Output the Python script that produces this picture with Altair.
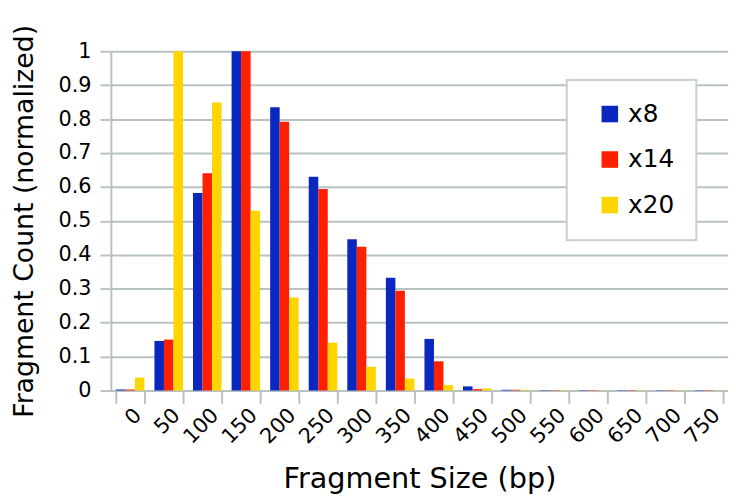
import altair as alt
import pandas as pd

sizes = ["0", "50", "100", "150", "200", "250", "300", "350", "400", "450",
         "500", "550", "600", "650", "700", "750"]
series = ["x8", "x14", "x20"]
x8 = [0.003, 0.146, 0.582, 1.0, 0.835, 0.630, 0.446, 0.332, 0.152, 0.012,
      0.002, 0.001, 0.001, 0.001, 0.001, 0.001]
x14 = [0.003, 0.150, 0.640, 1.0, 0.792, 0.594, 0.424, 0.294, 0.086, 0.004,
       0.002, 0.001, 0.001, 0.001, 0.001, 0.001]
x20 = [0.038, 1.0, 0.849, 0.530, 0.274, 0.141, 0.070, 0.035, 0.016, 0.006,
       0.002, 0.001, 0.001, 0.001, 0.001, 0.001]
colors = ["#0a28c0", "#ff2000", "#ffd500"]

rows = []
for name, vals in zip(series, [x8, x14, x20]):
    for s, v in zip(sizes, vals):
        rows.append({"size": s, "series": name, "value": v})
df = pd.DataFrame(rows)

FONT = "DejaVu Sans"
GRID = "#b8c2c2"

chart = alt.Chart(df).mark_bar().encode(
    x=alt.X("size:N", sort=sizes,
            scale=alt.Scale(paddingInner=0.26, paddingOuter=0.13),
            axis=alt.Axis(title="Fragment Size (bp)", labelAngle=-45,
                          labelAlign="right", labelBaseline="top",
                          labelFontSize=21, labelFont=FONT, labelColor="black",
                          tickBand="extent", tickSize=13, tickColor=GRID,
                          tickWidth=2, domainColor=GRID, domainWidth=2,
                          labelPadding=1, grid=False,
                          titleFontSize=29, titleFont=FONT,
                          titleFontWeight="normal", titleColor="black",
                          titleY=98, titleBaseline="alphabetic")),
    xOffset=alt.XOffset("series:N", sort=series),
    y=alt.Y("value:Q",
            scale=alt.Scale(domain=[0, 1]),
            axis=alt.Axis(title="Fragment Count (normalized)",
                          values=[i / 10 for i in range(11)], format=".1~f",
                          labelFontSize=21, labelFont=FONT, labelColor="black",
                          tickSize=11, tickColor=GRID, tickWidth=2,
                          domainColor=GRID, domainWidth=2, labelPadding=9,
                          gridColor=GRID, gridWidth=2, gridOpacity=1,
                          titleFontSize=27, titleFont=FONT,
                          titleFontWeight="normal", titleColor="black",
                          titleX=-87, titleBaseline="middle")),
    color=alt.Color("series:N", sort=series,
                    scale=alt.Scale(domain=series, range=colors),
                    legend=alt.Legend(title=None, orient="none",
                                      legendX=461, legendY=29,
                                      fillColor="white", strokeColor="#c8d0d0",
                                      padding=22, symbolOffset=9,
                                      symbolType="square", symbolSize=280,
                                      symbolStrokeWidth=0, symbolOpacity=1,
                                      labelFontSize=25, labelFont=FONT,
                                      labelColor="black", labelOffset=6,
                                      rowPadding=20)),
).properties(
    width=624, height=343,
    autosize=alt.AutoSizeParams(type="none"),
    padding={"left": 104, "top": 41, "right": 0, "bottom": 106},
).configure_view(stroke=None).configure_legend(strokeWidth=2)

chart.save("out.html", embed_options={"renderer": "svg", "actions": False})
